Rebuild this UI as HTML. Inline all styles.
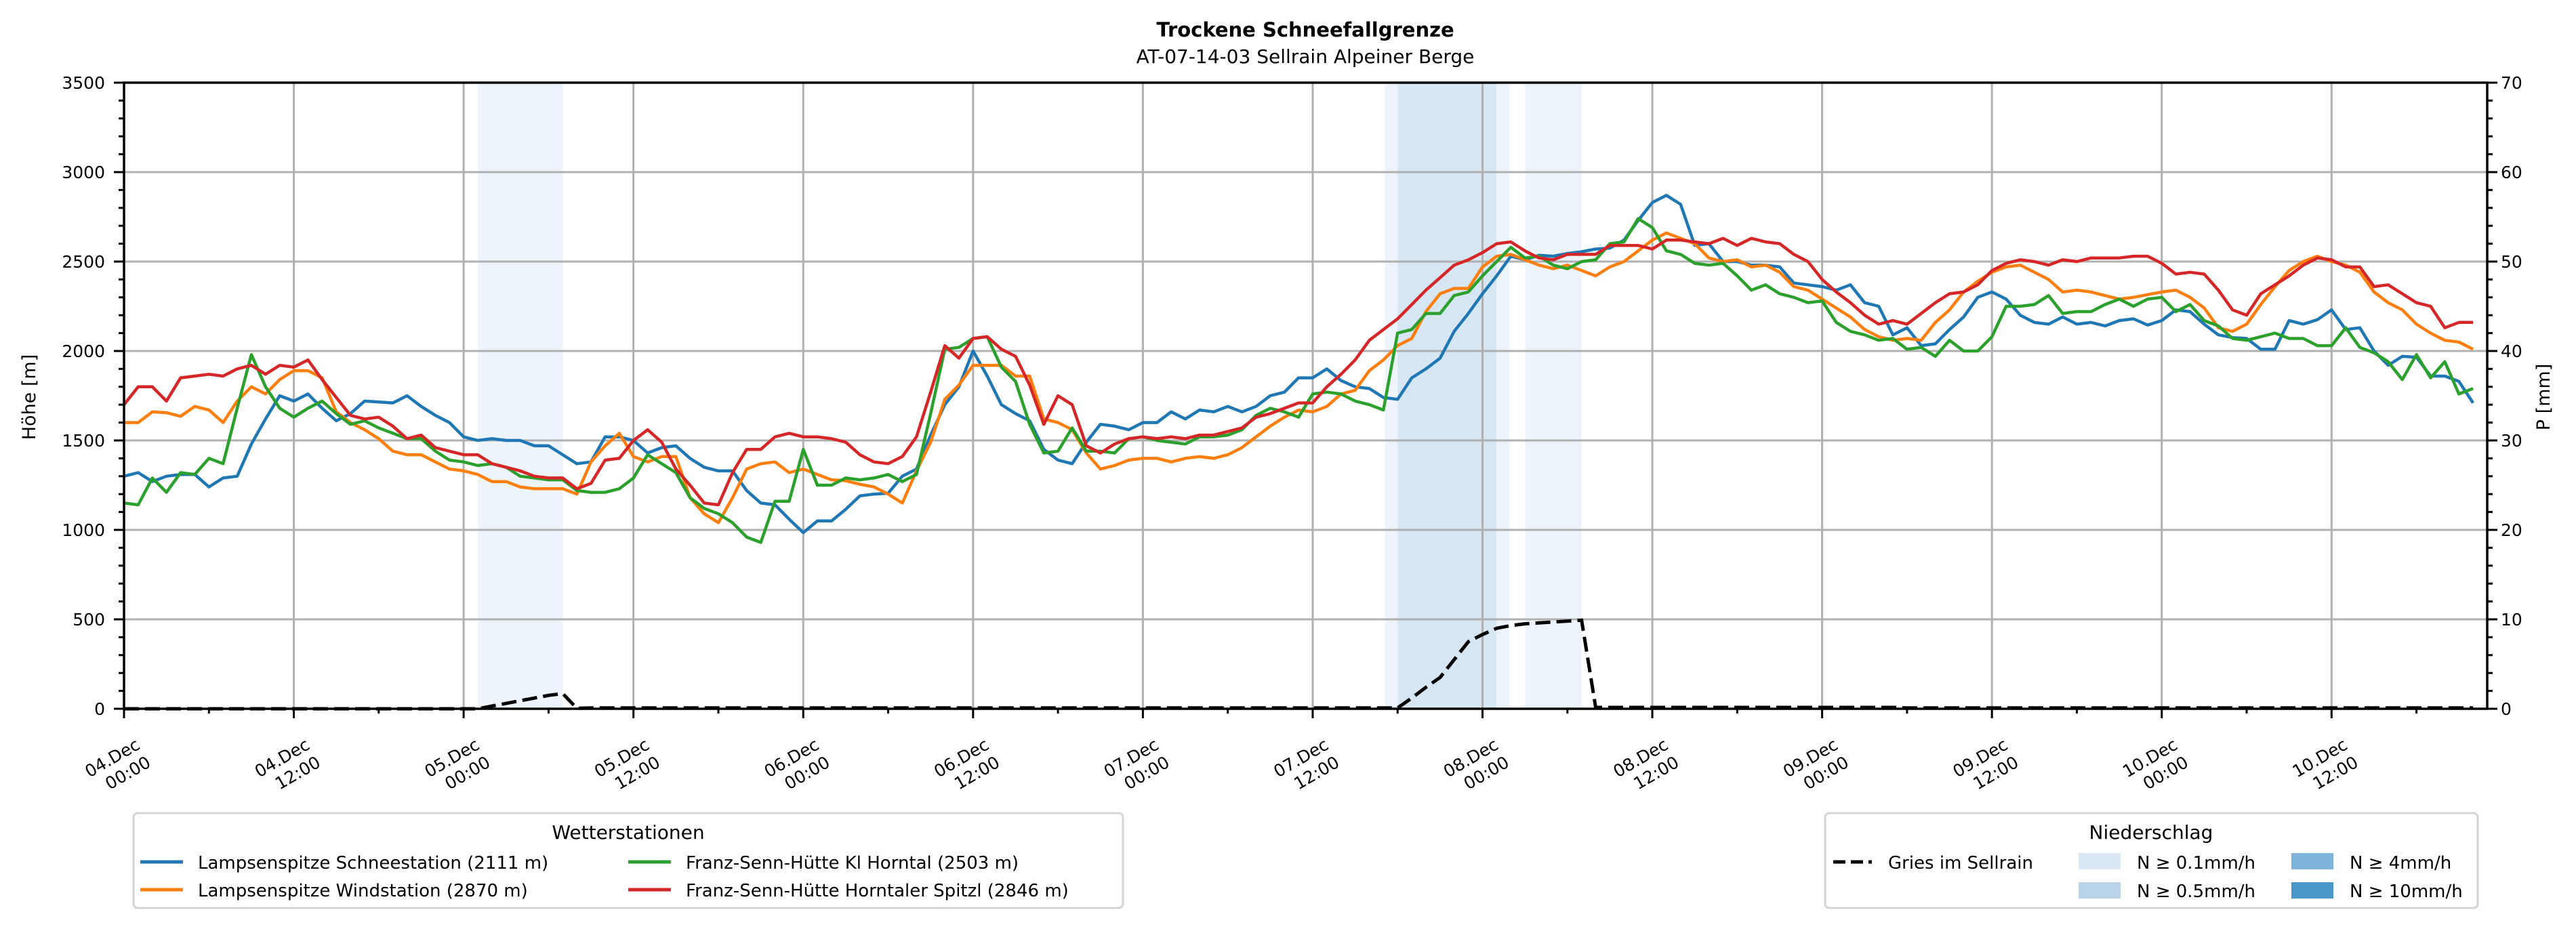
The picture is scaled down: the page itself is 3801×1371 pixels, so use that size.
<!DOCTYPE html>
<html><head><meta charset="utf-8">
<style>
html,body{margin:0;padding:0;background:#fff;}
svg{display:block;font-family:"DejaVu Sans","Liberation Sans",sans-serif;}
</style></head>
<body>
<svg id="chart" width="3801" height="1371" viewBox="0 0 3801 1371" xmlns="http://www.w3.org/2000/svg">
<rect x="0" y="0" width="3801" height="1371" fill="#fff"/>
<g id="bands"></g>
<g id="grid"></g>
<g id="series"></g>
<g id="axes"></g>
<text x="1926" y="54" text-anchor="middle" font-size="29" font-weight="bold">Trockene Schneefallgrenze</text>
<text x="1926" y="93" text-anchor="middle" font-size="28">AT-07-14-03 Sellrain Alpeiner Berge</text>
<text transform="translate(52,586) rotate(-90)" text-anchor="middle" font-size="27">Höhe [m]</text>
<text transform="translate(3762,586) rotate(-90)" text-anchor="middle" font-size="27">P [mm]</text>

<g>
<rect x="197" y="1200" width="1460" height="140" rx="6" fill="#fff" stroke="#d4d4d4" stroke-width="3"/>
<text x="927" y="1238" text-anchor="middle" font-size="28">Wetterstationen</text>
<line x1="207" y1="1272" x2="270" y2="1272" stroke="#1f77b4" stroke-width="5"/>
<text x="292" y="1282" font-size="26">Lampsenspitze Schneestation (2111 m)</text>
<line x1="207" y1="1313" x2="270" y2="1313" stroke="#ff7f0e" stroke-width="5"/>
<text x="292" y="1323" font-size="26">Lampsenspitze Windstation (2870 m)</text>
<line x1="927" y1="1272" x2="990" y2="1272" stroke="#2ca02c" stroke-width="5"/>
<text x="1012" y="1282" font-size="26">Franz-Senn-Hütte Kl Horntal (2503 m)</text>
<line x1="927" y1="1313" x2="990" y2="1313" stroke="#d62728" stroke-width="5"/>
<text x="1012" y="1323" font-size="26">Franz-Senn-Hütte Horntaler Spitzl (2846 m)</text>
</g>

<g>
<rect x="2693" y="1200" width="963" height="140" rx="6" fill="#fff" stroke="#d4d4d4" stroke-width="3"/>
<text x="3174" y="1238" text-anchor="middle" font-size="28">Niederschlag</text>
<line x1="2705" y1="1272" x2="2762" y2="1272" stroke="#000" stroke-width="5" stroke-dasharray="18,8"/>
<text x="2786" y="1282" font-size="26">Gries im Sellrain</text>
<rect x="3067" y="1259" width="62" height="24" fill="#d9e7f5"/>
<text x="3153" y="1282" font-size="26">N ≥ 0.1mm/h</text>
<rect x="3067" y="1302" width="62" height="24" fill="#b9d4ea"/>
<text x="3153" y="1324" font-size="26">N ≥ 0.5mm/h</text>
<rect x="3381" y="1259" width="62" height="24" fill="#7fb5dc"/>
<text x="3467" y="1282" font-size="26">N ≥ 4mm/h</text>
<rect x="3381" y="1302" width="62" height="24" fill="#4a97c9"/>
<text x="3467" y="1324" font-size="26">N ≥ 10mm/h</text>
</g>
</svg>
<script>
const blueVals=[1300,1320,1270,1300,1310,1310,1240,1290,1300,1480,
1620,1750,1720,1760,1680,1610,1650,1720,1715,1710,
1750,1690,1640,1600,1520,1500,1510,1500,1500,1470,
1470,1420,1370,1380,1520,1520,1500,1430,1460,1470,
1400,1350,1330,1330,1220,1150,1140,1060,985,1050,
1050,1115,1190,1200,1205,1300,1340,1530,1700,1800,
2000,1860,1700,1650,1610,1450,1390,1370,1490,1590,
1580,1560,1600,1600,1660,1620,1670,1660,1690,1660,
1690,1750,1770,1850,1850,1900,1835,1800,1790,1740,
1730,1850,1900,1960,2110,2210,2320,2420,2530,2510,
2535,2530,2545,2555,2570,2575,2620,2730,2830,2870,
2820,2590,2600,2500,2500,2480,2480,2470,2380,2370,
2360,2340,2370,2270,2250,2090,2130,2030,2040,2120,
2190,2300,2330,2290,2200,2160,2150,2190,2150,2160,
2140,2170,2180,2145,2170,2230,2220,2150,2090,2075,
2070,2010,2010,2170,2150,2175,2230,2120,2130,2000,
1920,1970,1965,1860,1860,1830,1710];
const orangeVals=[1600,1600,1660,1655,1635,1690,1670,1600,1720,1800,
1760,1840,1890,1890,1850,1660,1600,1560,1510,1440,
1420,1420,1380,1340,1330,1310,1270,1270,1240,1230,
1230,1230,1200,1380,1470,1540,1410,1380,1410,1410,
1180,1090,1040,1180,1340,1370,1380,1320,1340,1310,
1280,1275,1255,1240,1200,1150,1330,1490,1730,1810,
1920,1920,1920,1860,1860,1620,1600,1560,1430,1340,
1360,1390,1400,1400,1380,1400,1410,1400,1420,1460,
1520,1580,1630,1670,1660,1690,1760,1780,1890,1950,
2030,2070,2220,2320,2350,2350,2470,2530,2540,2510,
2480,2460,2480,2450,2420,2470,2500,2560,2620,2660,
2630,2600,2520,2500,2510,2470,2480,2440,2360,2340,
2290,2240,2190,2120,2080,2060,2070,2060,2160,2230,
2330,2390,2440,2470,2480,2440,2400,2330,2340,2330,
2310,2290,2300,2315,2330,2340,2300,2240,2130,2110,
2150,2260,2360,2450,2500,2530,2500,2480,2440,2330,
2270,2230,2150,2100,2060,2050,2010];
const greenVals=[1150,1140,1290,1210,1320,1310,1400,1370,1680,1980,
1800,1680,1630,1680,1720,1650,1590,1610,1570,1540,
1510,1510,1440,1390,1380,1360,1370,1350,1300,1290,
1280,1280,1220,1210,1210,1230,1290,1420,1370,1320,
1180,1120,1090,1040,960,930,1160,1160,1450,1250,
1250,1290,1280,1290,1310,1270,1310,1650,2010,2020,
2070,2080,1910,1830,1590,1430,1440,1570,1440,1440,
1430,1510,1520,1500,1490,1480,1520,1520,1530,1560,
1640,1680,1660,1630,1760,1770,1760,1720,1700,1670,
2100,2120,2210,2210,2310,2330,2420,2500,2580,2520,
2530,2480,2460,2500,2510,2600,2610,2740,2690,2560,
2540,2490,2480,2490,2420,2340,2370,2320,2300,2270,
2280,2160,2110,2090,2060,2070,2010,2020,1970,2060,
2000,2000,2080,2250,2250,2260,2310,2210,2220,2220,
2260,2290,2250,2290,2300,2220,2260,2170,2140,2070,
2060,2080,2100,2070,2070,2030,2030,2130,2020,1990,
1940,1840,1980,1850,1940,1760,1790];
const redVals=[1700,1800,1800,1720,1850,1860,1870,1860,1900,1920,
1870,1920,1910,1950,1840,1740,1640,1620,1630,1580,
1510,1530,1460,1440,1420,1420,1370,1350,1330,1300,
1290,1290,1230,1260,1390,1400,1500,1560,1490,1340,
1250,1150,1140,1320,1450,1450,1520,1540,1520,1520,
1510,1490,1420,1380,1370,1410,1520,1770,2030,1960,
2070,2080,2010,1970,1810,1590,1750,1700,1470,1430,
1480,1510,1520,1510,1520,1510,1530,1530,1550,1570,
1630,1650,1680,1710,1710,1800,1870,1950,2060,2120,
2180,2260,2340,2410,2480,2510,2550,2600,2610,2560,
2520,2510,2540,2540,2540,2590,2590,2590,2570,2620,
2620,2610,2600,2630,2590,2630,2610,2600,2540,2500,
2400,2330,2270,2200,2150,2170,2150,2210,2270,2320,
2330,2370,2450,2490,2510,2500,2480,2510,2500,2520,
2520,2520,2530,2530,2490,2430,2440,2430,2340,2230,
2200,2320,2370,2420,2480,2520,2510,2470,2470,2360,
2370,2320,2270,2250,2130,2160,2160];
const griesVals=[0,0,0,0,0,0,0,0,0,0,
0,0,0,0,0,0,0,0,0,0,
0,0,0,0,0,0,0.3,0.6,0.9,1.2,
1.5,1.7,0.05,0.1,0.1,0.1,0.1,0.1,0.1,0.1,
0.1,0.1,0.1,0.1,0.1,0.1,0.1,0.1,0.1,0.1,
0.1,0.1,0.1,0.1,0.1,0.1,0.1,0.1,0.1,0.1,
0.1,0.1,0.1,0.1,0.1,0.1,0.1,0.1,0.1,0.1,
0.1,0.1,0.1,0.1,0.1,0.1,0.1,0.1,0.1,0.1,
0.1,0.1,0.1,0.1,0.1,0.1,0.1,0.1,0.1,0.1,
0.1,1.2,2.4,3.5,5.5,7.5,8.3,9.0,9.3,9.5,
9.6,9.7,9.8,9.9,0.15,0.15,0.15,0.15,0.15,0.15,
0.15,0.15,0.15,0.15,0.15,0.15,0.15,0.15,0.15,0.15,
0.15,0.15,0.15,0.15,0.15,0.15,0.1,0.1,0.1,0.1,
0.1,0.1,0.1,0.1,0.1,0.1,0.1,0.1,0.1,0.1,
0.1,0.1,0.1,0.1,0.1,0.1,0.1,0.1,0.1,0.1,
0.1,0.1,0.1,0.1,0.1,0.1,0.1,0.1,0.1,0.1,
0.1,0.1,0.1,0.1,0.1,0.1,0.1];
const precipStart=[25.0,89.1,90.0,97.0,99.0];
const precipEnd=[31.0,90.0,97.0,97.9,103.0];
const precipLevel=[1,1,2,1,1];
const xTickHours=[0,12,24,36,48,60,72,84,96,108,120,132,144,156];
const xTickDates=["04.Dec","04.Dec","05.Dec","05.Dec","06.Dec","06.Dec","07.Dec","07.Dec","08.Dec","08.Dec","09.Dec","09.Dec","10.Dec","10.Dec"];
const xTickTimes=["00:00","12:00","00:00","12:00","00:00","12:00","00:00","12:00","00:00","12:00","00:00","12:00","00:00","12:00"];
const yTicks=[0,500,1000,1500,2000,2500,3000,3500];
const y2Ticks=[0,10,20,30,40,50,60,70];

const NS="http://www.w3.org/2000/svg";
const L=183,R=3670,T=122,B=1046,HMAX=167,YMAX=3500,PMAX=70;
const xs=h=>L+h*(R-L)/HMAX;
const ys=v=>B-v*(B-T)/YMAX;
const yp=p=>B-p*(B-T)/PMAX;
function mk(tag,attrs,parent){const e=document.createElementNS(NS,tag);for(const k in attrs)e.setAttribute(k,attrs[k]);parent.appendChild(e);return e;}
const bands=document.getElementById('bands'),grid=document.getElementById('grid'),series=document.getElementById('series'),axes=document.getElementById('axes');

precipStart.forEach((s,i)=>{
 const r=mk('rect',{x:xs(s),y:T,width:xs(precipEnd[i])-xs(s),height:B-T,fill:precipLevel[i]>1?'#d6e6f3':'#eef4fb'},bands);
 
 
});
yTicks.forEach(v=>{
 const g=mk('line',{x1:L,x2:R,y1:ys(v),y2:ys(v),stroke:'#b0b0b0','stroke-width':3},grid);
 
 
});
xTickHours.forEach(h=>{
 const g=mk('line',{x1:xs(h),x2:xs(h),y1:T,y2:B,stroke:'#b0b0b0','stroke-width':3},grid);
 
 
});
function path(vals,scale){return vals.map((v,i)=>(i?'L':'M')+xs(i).toFixed(1)+','+scale(v).toFixed(1)).join(' ');}
const defs=[[blueVals,'#1f77b4','line-schneestation'],[orangeVals,'#ff7f0e','line-windstation'],[greenVals,'#2ca02c','line-horntal'],[redVals,'#d62728','line-spitzl']];
defs.forEach(d=>{
 const p=mk('path',{d:path(d[0],ys),fill:'none',stroke:d[1],'stroke-width':4.5,'stroke-linejoin':'round'},series);
 
 
});
const gp=mk('path',{d:path(griesVals,yp),fill:'none',stroke:'#000','stroke-width':5,'stroke-dasharray':'22,9'},series);



const frame=mk('rect',{x:L,y:T,width:R-L,height:B-T,fill:'none',stroke:'#000','stroke-width':3.5},axes);


for(let v=0;v<=YMAX;v+=100){
 const major=v%500===0;
 const t=mk('line',{x1:L-(major?15:8),x2:L,y1:ys(v),y2:ys(v),stroke:'#000','stroke-width':3},axes);
 
 
}
yTicks.forEach(v=>{
 const t=mk('text',{x:L-28,y:ys(v)+9,'text-anchor':'end','font-size':25},axes);
 t.textContent=v;
 
 
});
for(let p=0;p<=PMAX;p+=2){
 const major=p%10===0;
 const t=mk('line',{x1:R,x2:R+(major?15:8),y1:yp(p),y2:yp(p),stroke:'#000','stroke-width':3},axes);
 
 
}
y2Ticks.forEach(p=>{
 const t=mk('text',{x:R+20,y:yp(p)+9,'text-anchor':'start','font-size':25},axes);
 t.textContent=p;
 
 
});
for(let h=0;h<=HMAX;h+=6){
 const major=h%12===0;
 const t=mk('line',{x1:xs(h),x2:xs(h),y1:B,y2:B+(major?14:7),stroke:'#000','stroke-width':3},axes);
 
 
}
xTickHours.forEach((h,i)=>{
 const x=xs(h);
 const t1=mk('text',{'text-anchor':'middle','font-size':25,transform:'translate('+(x-13)+','+(1126)+') rotate(-30)'},axes);
 t1.textContent=xTickDates[i];
 
 
 const t2=mk('text',{'text-anchor':'middle','font-size':25,transform:'translate('+(x+10)+','+(1148)+') rotate(-30)'},axes);
 t2.textContent=xTickTimes[i];
 
 
});
</script>
</body></html>
